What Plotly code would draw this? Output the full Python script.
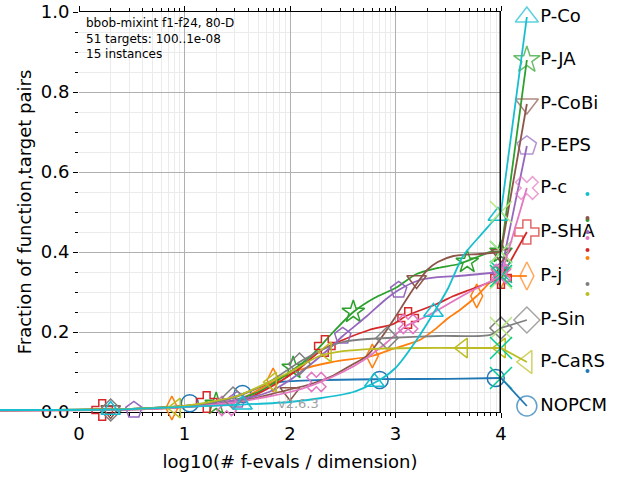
import numpy as np
import plotly.graph_objects as go

# ECDF curves (x = log10(#f-evals / dimension))
names = ['NOPCM', 'P-j', 'P-JA', 'P-SHA', 'P-EPS', 'P-CoBi', 'P-c', 'P-Sin', 'P-CaRS', 'P-Co']
colors = ['#1f77b4', '#ff7f0e', '#2ca02c', '#d62728', '#9467bd',
          '#8c564b', '#e377c2', '#7f7f7f', '#bcbd22', '#17becf']
symbols = ['circle-open', 'diamond-tall-open', 'star-open', 'cross-open', 'pentagon-open',
           'triangle-down-open', 'x-open', 'diamond-open', 'triangle-left-open', 'triangle-up-open']

nopcm_x = [-0.75, 0.5, 1.0, 1.3, 1.55, 1.75, 1.9, 2.3, 2.85, 3.5, 4.0]
nopcm_y = [0.005, 0.008, 0.015, 0.025, 0.045, 0.065, 0.075, 0.08, 0.082, 0.083, 0.085]
pj_x = [-0.75, 0.5, 1.0, 1.5, 1.84, 2.09, 2.4, 2.78, 3.0, 3.23, 3.39, 3.5, 3.61, 3.77, 3.92, 4.0]
pj_y = [0.004, 0.007, 0.014, 0.03, 0.075, 0.105, 0.125, 0.14, 0.16, 0.18, 0.21, 0.235, 0.255, 0.29, 0.33, 0.34]
pja_x = [-0.75, 0.0, 0.5, 1.0, 1.4, 1.7, 2.0, 2.2, 2.41, 2.6, 2.8, 3.0, 3.2, 3.4, 3.6, 3.8, 3.9, 4.0]
pja_y = [0.004, 0.006, 0.008, 0.014, 0.025, 0.05, 0.1, 0.14, 0.2, 0.25, 0.285, 0.31, 0.345, 0.36, 0.37, 0.39, 0.4, 0.4]
psha_x = [-0.75, 0.5, 1.0, 1.3, 1.6, 1.8, 2.07, 2.3, 2.5, 2.75, 2.98, 3.1, 3.39, 3.55, 3.7, 3.85, 4.0]
psha_y = [0.004, 0.007, 0.014, 0.02, 0.035, 0.06, 0.105, 0.155, 0.18, 0.205, 0.22, 0.24, 0.27, 0.29, 0.305, 0.32, 0.335]
peps_x = [-0.75, 0.5, 1.0, 1.5, 1.8, 2.0, 2.2, 2.4, 2.5, 2.73, 2.9, 3.03, 3.23, 3.4, 3.6, 3.8, 4.0]
peps_y = [0.004, 0.007, 0.013, 0.03, 0.05, 0.08, 0.12, 0.165, 0.19, 0.24, 0.28, 0.305, 0.33, 0.337, 0.34, 0.345, 0.35]
pcobi_x = [-0.75, 0.5, 1.0, 1.5, 1.9, 2.2, 2.4, 2.6, 2.73, 2.85, 2.98, 3.1, 3.2, 3.3, 3.4, 3.55, 3.8, 4.0]
pcobi_y = [0.004, 0.006, 0.012, 0.025, 0.05, 0.07, 0.09, 0.12, 0.14, 0.18, 0.23, 0.28, 0.32, 0.355, 0.375, 0.39, 0.395, 0.4]
pc_x = [-0.75, 0.5, 1.0, 1.5, 2.0, 2.22, 2.5, 2.7, 2.9, 3.1, 3.3, 3.5, 3.7, 3.85, 4.0]
pc_y = [0.004, 0.006, 0.012, 0.025, 0.05, 0.068, 0.1, 0.13, 0.17, 0.215, 0.24, 0.27, 0.3, 0.32, 0.34]
psin_x = [-0.75, 0.5, 1.0, 1.46, 1.8, 2.09, 2.3, 2.5, 2.63, 2.92, 3.4, 3.9, 4.0]
psin_y = [0.005, 0.008, 0.015, 0.035, 0.075, 0.125, 0.155, 0.175, 0.18, 0.185, 0.19, 0.193, 0.21]
pcars_x = [-0.75, 0.5, 1.0, 1.5, 1.8, 2.0, 2.28, 2.5, 2.8, 3.2, 3.64, 4.0]
pcars_y = [0.005, 0.008, 0.015, 0.04, 0.075, 0.1, 0.14, 0.152, 0.158, 0.16, 0.16, 0.16]
pco_x = [-0.75, 0.3, 1.0, 1.5, 2.0, 2.3, 2.6, 2.85, 3.0, 3.2, 3.39, 3.5, 3.64, 3.8, 3.9, 4.0]
pco_y = [0.005, 0.006, 0.013, 0.018, 0.025, 0.035, 0.05, 0.08, 0.11, 0.18, 0.26, 0.31, 0.39, 0.44, 0.47, 0.5]

# marker positions along each curve
nopcm_mx = [1.05, 1.55, 2.85, 3.95]
nopcm_my = [0.022, 0.045, 0.08, 0.085]
pj_mx = [0.88, 1.84, 2.78, 3.77, 4.0]
pj_my = [0.01, 0.08, 0.14, 0.29, 0.34]
pja_mx = [1.3, 2.03, 2.6, 3.68, 4.0]
pja_my = [0.02, 0.11, 0.25, 0.375, 0.4]
psha_mx = [0.22, 1.21, 2.33, 3.12, 4.0]
psha_my = [0.005, 0.025, 0.165, 0.235, 0.335]
peps_mx = [0.52, 1.5, 2.5, 3.03, 3.99]
peps_my = [0.005, 0.03, 0.19, 0.305, 0.35]
pcobi_mx = [0.3, 2.0, 3.2, 4.0]
pcobi_my = [0.005, 0.05, 0.33, 0.395]
pc_mx = [1.4, 2.25, 3.12, 4.0]
pc_my = [0.015, 0.075, 0.22, 0.345]
psin_mx = [0.3, 1.46, 2.09, 2.92, 4.0]
psin_my = [0.005, 0.035, 0.12, 0.185, 0.21]
pcars_mx = [0.92, 1.83, 2.35, 3.64, 4.0]
pcars_my = [0.01, 0.075, 0.15, 0.16, 0.16]
pco_mx = [0.3, 1.55, 2.8, 3.36, 3.97]
pco_my = [0.005, 0.018, 0.075, 0.25, 0.49]

# label heights at the right side and small dots further right
label_y = [0.015, 0.34, 0.88, 0.45, 0.665, 0.77, 0.56, 0.23, 0.125, 0.9875]
dot_y = [0.1025, 0.385, 0.48, 0.405, 0.45, 0.485, 0.435, 0.32, 0.295, 0.545]

curves = [(nopcm_x, nopcm_y, nopcm_mx, nopcm_my), (pj_x, pj_y, pj_mx, pj_my),
          (pja_x, pja_y, pja_mx, pja_my), (psha_x, psha_y, psha_mx, psha_my),
          (peps_x, peps_y, peps_mx, peps_my), (pcobi_x, pcobi_y, pcobi_mx, pcobi_my),
          (pc_x, pc_y, pc_mx, pc_my), (psin_x, psin_y, psin_mx, psin_my),
          (pcars_x, pcars_y, pcars_mx, pcars_my), (pco_x, pco_y, pco_mx, pco_my)]

# pixel geometry: x=0 at px 79, 105.5 px per decade; y=0 at px 412, 400 px per unit
W, H = 640, 480
x0px, xs = 79, 105.5
y0px, ys = 412, 400

fig = go.Figure()

for (cx, cy, mx, my), name, col, sym, ly, dy in zip(curves, names, colors, symbols, label_y, dot_y):
    fig.add_trace(go.Scatter(x=cx, y=cy, mode='lines', line=dict(color=col, width=1.8, smoothing=0.7),
                             line_shape='spline', xaxis='x2', yaxis='y2', cliponaxis=False,
                             hoverinfo='skip'))
    fig.add_trace(go.Scatter(x=mx, y=my, mode='markers', xaxis='x2', yaxis='y2', cliponaxis=False,
                             marker=dict(symbol=sym, size=17, color=col, line=dict(width=1.5, color=col))))
    fig.add_trace(go.Scatter(x=[cx[-1]], y=[cy[-1]], mode='markers', xaxis='x2', yaxis='y2',
                             cliponaxis=False,
                             marker=dict(symbol='x-thin-open', size=22, line=dict(width=1.5, color=col))))
    fig.add_trace(go.Scatter(x=[cx[-1], 4.245], y=[cy[-1], ly], mode='lines+markers+text',
                             xaxis='x2', yaxis='y2', cliponaxis=False,
                             line=dict(color=col, width=1.8),
                             marker=dict(symbol=sym, size=[0, 20], color=col, line=dict(width=1.5, color=col)),
                             text=['', name], textposition='middle right',
                             textfont=dict(size=18, color='black')))
    fig.add_trace(go.Scatter(x=[4.82], y=[dy], mode='markers', xaxis='x2', yaxis='y2',
                             cliponaxis=False, marker=dict(size=4, color=col)))

minor_x = [d + np.log10(k) for d in range(4) for k in range(2, 10)]

fig.update_layout(
    width=W, height=H,
    margin=dict(l=0, r=0, t=0, b=0),
    paper_bgcolor='white', plot_bgcolor='rgba(0,0,0,0)',
    showlegend=False,
    font=dict(family='DejaVu Sans', color='black'),
    xaxis=dict(domain=[x0px / W, (x0px + 4 * xs) / W], range=[0, 4],
               tickvals=[0, 1, 2, 3, 4], tickfont=dict(size=18),
               showgrid=True, gridcolor='#b0b0b0', gridwidth=1,
               showline=True, linecolor='black', linewidth=1, mirror='ticks',
               ticks='outside', ticklen=5, tickcolor='black',
               minor=dict(tickmode='array', tickvals=minor_x, showgrid=True,
                          gridcolor='#ebebeb', ticks='outside', ticklen=3, tickcolor='black'),
               zeroline=False, automargin=False,
               title=dict(text='log10(# f-evals / dimension)', font=dict(size=18), standoff=12),
               anchor='y'),
    yaxis=dict(domain=[(H - y0px) / H, (H - y0px + ys) / H], range=[0, 1],
               tickvals=[0, 0.2, 0.4, 0.6, 0.8, 1.0], ticktext=['0.0', '0.2', '0.4', '0.6', '0.8', '1.0'],
               tickfont=dict(size=18),
               showgrid=True, gridcolor='#b0b0b0', gridwidth=1,
               showline=False, ticks='outside', ticklen=5, tickcolor='black',
               minor=dict(dtick=0.05, showgrid=True, gridcolor='#ebebeb',
                          ticks='outside', ticklen=3, tickcolor='black'),
               zeroline=False, automargin=False,
               title=dict(text='Fraction of function,target pairs', font=dict(size=18), standoff=4),
               anchor='x'),
    xaxis2=dict(domain=[0, 1], range=[-x0px / xs, (W - x0px) / xs], visible=False,
                anchor='y2', fixedrange=True),
    yaxis2=dict(domain=[0, 1], range=[(y0px - H) / ys, y0px / ys], visible=False,
                anchor='x2', fixedrange=True),
)

# thick black line at the budget (x = 4)
fig.add_shape(type='line', xref='x', yref='y', x0=4, x1=4, y0=0, y1=1,
              line=dict(color='black', width=3))

fig.add_annotation(xref='x', yref='y', x=0.05, y=0.995, xanchor='left', yanchor='top',
                   text='bbob-mixint f1-f24, 80-D<br>51 targets: 100..1e-08<br>15 instances',
                   showarrow=False, align='left', font=dict(size=12, color='black'))
fig.add_annotation(xref='x', yref='y', x=2.08, y=0.022, xanchor='center', yanchor='middle',
                   text='v2.6.3', showarrow=False, font=dict(size=13, color='#a0a0a0'))

fig.write_html('out.html', config={'displayModeBar': False},
               post_script="document.body.style.margin='0';")
